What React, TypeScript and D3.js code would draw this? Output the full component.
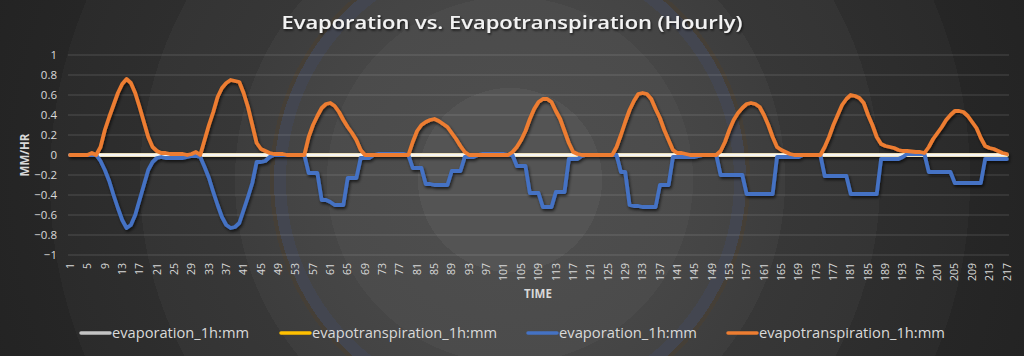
import React from "react";
import * as d3 from "d3";

// Categories: hour index 1..217
const hours: number[] = d3.range(1, 218);
const tickHours: number[] = hours.filter((h) => (h - 1) % 4 === 0);
const yTicks: number[] = [-1, -0.8, -0.6, -0.4, -0.2, 0, 0.2, 0.4, 0.6, 0.8, 1];

// Series
const evapotranspiration: number[] = [
  0, 0, 0, 0, 0, 0.02, 0, 0.08, 0.25, 0.38,
  0.5, 0.62, 0.71, 0.76, 0.72, 0.62, 0.48, 0.33, 0.18, 0.08,
  0.04, 0.02, 0.02, 0.01, 0.01, 0.01, 0.01, 0, 0.01, 0.03,
  0, 0.15, 0.3, 0.43, 0.58, 0.67, 0.72, 0.75, 0.74, 0.73,
  0.62, 0.48, 0.3, 0.12, 0.06, 0.04, 0.02, 0.01, 0.01, 0.01,
  0, 0, 0, 0, 0, 0.18, 0.3, 0.39, 0.47, 0.51,
  0.52, 0.49, 0.43, 0.35, 0.28, 0.22, 0.15, 0.05, 0, 0,
  0, 0, 0, 0, 0, 0, 0, 0, 0, 0.13,
  0.24, 0.3, 0.33, 0.35, 0.36, 0.34, 0.31, 0.28, 0.22, 0.16,
  0.09, 0.03, 0, 0, 0, 0, 0, 0, 0, 0,
  0, 0, 0.03, 0.08, 0.15, 0.24, 0.36, 0.46, 0.53, 0.56,
  0.56, 0.53, 0.44, 0.36, 0.24, 0.12, 0.03, 0.01, 0, 0,
  0, 0, 0, 0, 0, 0, 0.08, 0.2, 0.33, 0.45,
  0.54, 0.61, 0.62, 0.61, 0.56, 0.46, 0.37, 0.25, 0.15, 0.05,
  0.02, 0.02, 0.01, 0, 0, 0, 0, 0, 0, 0,
  0.04, 0.13, 0.25, 0.35, 0.42, 0.47, 0.51, 0.52, 0.51, 0.48,
  0.4, 0.3, 0.18, 0.08, 0.05, 0.03, 0.01, 0, 0, 0,
  0, 0, 0, 0, 0.08, 0.18, 0.3, 0.4, 0.5, 0.56,
  0.6, 0.59, 0.57, 0.52, 0.4, 0.3, 0.18, 0.11, 0.09, 0.08,
  0.07, 0.05, 0.04, 0.04, 0.035, 0.03, 0.03, 0.02, 0.08, 0.16,
  0.22, 0.28, 0.35, 0.4, 0.44, 0.44, 0.43, 0.39, 0.33, 0.27,
  0.17, 0.09, 0.07, 0.06, 0.04, 0.02, 0.01,
];

const evaporation: number[] = [
  0, 0, 0, 0, 0, 0, 0, -0.06, -0.15, -0.26,
  -0.4, -0.53, -0.65, -0.73, -0.7, -0.6, -0.45, -0.3, -0.15, -0.07,
  -0.03, -0.02, -0.03, -0.03, -0.03, -0.03, -0.03, -0.02, -0.01, -0.01,
  -0.02, -0.12, -0.23, -0.37, -0.5, -0.62, -0.7, -0.73, -0.72, -0.68,
  -0.55, -0.42, -0.28, -0.07, -0.07, -0.06, -0.02, 0, 0, 0,
  0, 0, 0, 0, 0, -0.18, -0.18, -0.18, -0.45, -0.45,
  -0.47, -0.5, -0.5, -0.5, -0.23, -0.23, -0.23, -0.03, -0.03, -0.03,
  0, 0.01, 0.01, 0.01, 0.01, 0.01, 0.01, 0.01, 0, -0.13,
  -0.13, -0.13, -0.29, -0.29, -0.3, -0.3, -0.3, -0.3, -0.16, -0.16,
  -0.16, -0.02, -0.02, -0.02, 0, 0.01, 0.01, 0.01, 0.01, 0.01,
  0.01, 0, 0, -0.11, -0.11, -0.11, -0.38, -0.38, -0.38, -0.52,
  -0.52, -0.52, -0.37, -0.37, -0.37, -0.04, -0.04, -0.04, -0.01, 0,
  0, 0, 0, 0, 0, 0, 0, -0.17, -0.17, -0.5,
  -0.51, -0.51, -0.52, -0.52, -0.52, -0.52, -0.3, -0.3, -0.3, -0.02,
  -0.02, -0.02, -0.02, -0.02, -0.02, -0.01, 0, 0, 0, 0,
  -0.2, -0.2, -0.2, -0.2, -0.2, -0.2, -0.39, -0.39, -0.39, -0.39,
  -0.39, -0.39, -0.39, -0.02, -0.02, -0.02, -0.02, -0.02, -0.02, 0,
  0, 0, 0, 0, -0.21, -0.21, -0.21, -0.21, -0.21, -0.21,
  -0.39, -0.39, -0.39, -0.39, -0.39, -0.39, -0.39, -0.04, -0.04, -0.04,
  -0.04, -0.04, -0.02, 0.01, 0.01, 0.01, 0.01, 0.01, -0.17, -0.17,
  -0.17, -0.17, -0.17, -0.17, -0.28, -0.28, -0.28, -0.28, -0.28, -0.28,
  -0.28, -0.04, -0.04, -0.04, -0.04, -0.04, -0.04,
];

// First pair of series (drawn flat on the zero line)
const evaporationGrey: number[] = hours.map(() => 0);
const evapotranspirationYellow: number[] = hours.map(() => 0);

const legendLabels: string[] = [
  "evaporation_1h:mm",
  "evapotranspiration_1h:mm",
  "evaporation_1h:mm",
  "evapotranspiration_1h:mm",
];

const W = 1024;
const H = 356;
const FONT = "'Open Sans', 'Noto Sans', sans-serif";

export default function App() {
  const x = d3.scalePoint<number>().domain(hours).range([68, 1009]).padding(0.5);
  const y = d3.scaleLinear().domain([-1, 1]).range([255, 55]);
  const line = d3
    .line<number>()
    .x((_, i) => x(hours[i]) as number)
    .y((d) => y(d));

  const series = [
    { values: evapotranspirationYellow, color: "#ffc000", width: 3.5 },
    { values: evaporationGrey, color: "#f4f4f4", width: 3.5 },
    { values: evaporation, color: "#4472c4", width: 3.8 },
    { values: evapotranspiration, color: "#ed7d31", width: 3.8 },
  ];
  const legendColors = ["#c4c4c4", "#ffc000", "#4472c4", "#ed7d31"];
  const legendX = [81, 281, 528, 728];
  const legendTextLen = [137, 185, 138, 186];

  const ringStops: [number, string][] = [
    [0, "#545454"],
    [92, "#545454"],
    [92, "#4d4d4d"],
    [183, "#4b4b4b"],
    [183, "#464646"],
    [224, "#444444"],
    [224, "#434650"],
    [236, "#434650"],
    [236, "#453f37"],
    [240, "#453f37"],
    [240, "#3f3f3f"],
    [275, "#3d3d3d"],
    [275, "#373737"],
    [370, "#343434"],
    [370, "#2e2e2e"],
    [460, "#2b2b2b"],
    [460, "#262626"],
    [560, "#232323"],
    [700, "#1f1f1f"],
  ];
  const R = 700;

  return (
    <svg
      width={W}
      height={H}
      style={{ position: "absolute", left: 0, top: 0, display: "block" }}
      fontFamily={FONT}
    >
      <defs>
        <radialGradient id="bg" gradientUnits="userSpaceOnUse" cx={510} cy={180} r={R}>
          {ringStops.map(([r, c], i) => (
            <stop key={i} offset={r / R} stopColor={c} />
          ))}
        </radialGradient>
        <filter id="sh" x="-5%" y="-30%" width="110%" height="160%">
          <feDropShadow dx={1.2} dy={2} stdDeviation={1.4} floodColor="#000" floodOpacity={0.65} />
        </filter>
        <filter id="tsh" x="-5%" y="-30%" width="110%" height="160%">
          <feDropShadow dx={1} dy={1.5} stdDeviation={1} floodColor="#000" floodOpacity={0.7} />
        </filter>
      </defs>
      <rect x={0} y={0} width={W} height={H} fill="url(#bg)" />

      {/* Title */}
      <text
        x={512}
        y={29}
        textAnchor="middle"
        fill="#f2f2f2"
        fontSize={18}
        fontWeight={600}
        textLength={461}
        lengthAdjust="spacingAndGlyphs"
        filter="url(#tsh)"
      >
        Evaporation vs. Evapotranspiration (Hourly)
      </text>

      {/* Gridlines */}
      {yTicks.map((t) =>
        t === 0 ? null : (
          <line
            key={t}
            x1={68}
            x2={1009}
            y1={y(t)}
            y2={y(t)}
            stroke="#ffffff"
            strokeOpacity={0.17}
            strokeWidth={1}
          />
        )
      )}

      {/* Y tick labels */}
      {yTicks.map((t) => (
        <text
          key={"yl" + t}
          x={57}
          y={y(t)}
          dy="0.35em"
          textAnchor="end"
          fill="#d9d9d9"
          fontSize={11.5}
        >
          {d3.format("")(+t.toFixed(1))}
        </text>
      ))}

      {/* Y axis title */}
      <text
        transform={`translate(29,155) rotate(-90)`}
        textAnchor="middle"
        fill="#d9d9d9"
        fontSize={11.5}
        fontWeight={700}
      >
        MM/HR
      </text>

      {/* X tick labels */}
      {tickHours.map((h) => (
        <text
          key={"xl" + h}
          transform={`translate(${x(h)},263) rotate(-90)`}
          dy="0.35em"
          textAnchor="end"
          fill="#d9d9d9"
          fontSize={10.5}
        >
          {h}
        </text>
      ))}

      {/* X axis title */}
      <text x={538} y={298} textAnchor="middle" fill="#d9d9d9" fontSize={11.5} fontWeight={700}>
        TIME
      </text>

      {/* Series */}
      <g filter="url(#sh)" fill="none" strokeLinejoin="round" strokeLinecap="round">
        {series.map((s, i) => (
          <path key={i} d={line(s.values) || ""} stroke={s.color} strokeWidth={s.width} />
        ))}
      </g>

      {/* Legend */}
      {legendLabels.map((lab, i) => (
        <g key={"lg" + i}>
          <line
            x1={legendX[i]}
            x2={legendX[i] + 29}
            y1={333}
            y2={333}
            stroke={legendColors[i]}
            strokeWidth={3.5}
            strokeLinecap="round"
          />
          <text
            x={legendX[i] + 31}
            y={333}
            dy="0.35em"
            fill="#d9d9d9"
            fontSize={14}
            textLength={legendTextLen[i]}
            lengthAdjust="spacingAndGlyphs"
          >
            {lab}
          </text>
        </g>
      ))}
    </svg>
  );
}
